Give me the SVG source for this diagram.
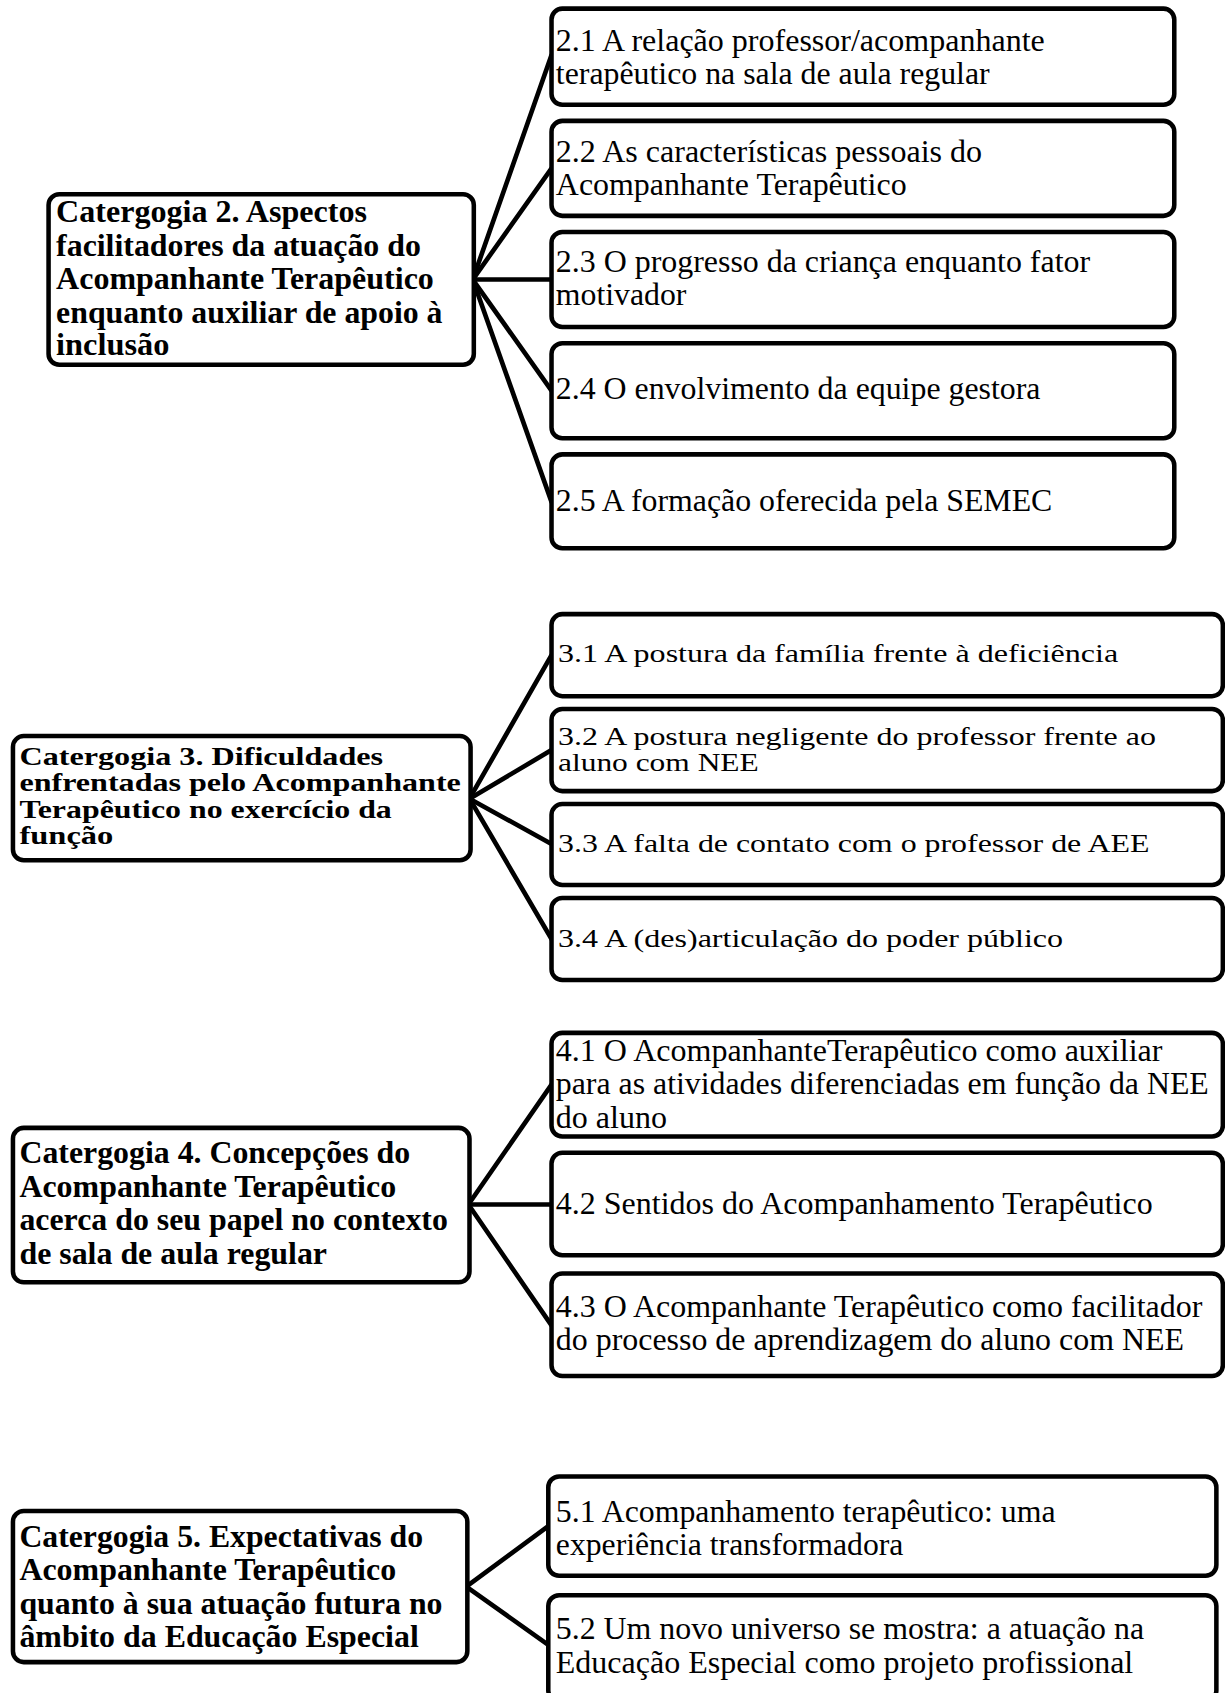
<svg xmlns="http://www.w3.org/2000/svg" width="1225" height="1693" viewBox="0 0 1225 1693">
<style>
.box{fill:#fff;stroke:#000;stroke-width:4.2}
.ln{stroke:#000;stroke-width:4.3;fill:none;stroke-linecap:round}
.t{font-family:'Liberation Serif','Times New Roman',serif;font-size:29.5px;fill:#000}
.b{font-weight:bold}
.s{font-size:23px}
</style>
<rect width="1225" height="1693" fill="#fff"/>
<g transform="scale(1.0793)">
<g id="connectors">
<line class="ln" x1="438" y1="259" x2="511" y2="51"/>
<line class="ln" x1="438" y1="259" x2="511" y2="156"/>
<line class="ln" x1="438" y1="259" x2="511" y2="259"/>
<line class="ln" x1="438" y1="259" x2="511" y2="362"/>
<line class="ln" x1="438" y1="259" x2="511" y2="465"/>
<line class="ln" x1="435" y1="740" x2="511" y2="607"/>
<line class="ln" x1="435" y1="740" x2="511" y2="695"/>
<line class="ln" x1="435" y1="740" x2="511" y2="782"/>
<line class="ln" x1="435" y1="740" x2="511" y2="870"/>
<line class="ln" x1="434" y1="1116" x2="511" y2="1005"/>
<line class="ln" x1="434" y1="1116" x2="511" y2="1116"/>
<line class="ln" x1="434" y1="1116" x2="511" y2="1228"/>
<line class="ln" x1="432" y1="1470" x2="508" y2="1414"/>
<line class="ln" x1="432" y1="1470" x2="508" y2="1524"/>
</g>

<g id="cat2">
<rect class="box" x="45" y="180" width="394" height="158" rx="10"/>
<text class="t b" x="52" y="206" textLength="288" lengthAdjust="spacingAndGlyphs">Catergogia 2. Aspectos</text>
<text class="t b" x="52" y="237" textLength="338" lengthAdjust="spacingAndGlyphs">facilitadores da atuação do</text>
<text class="t b" x="52" y="268" textLength="350" lengthAdjust="spacingAndGlyphs">Acompanhante Terapêutico</text>
<text class="t b" x="52" y="299" textLength="358" lengthAdjust="spacingAndGlyphs">enquanto auxiliar de apoio à</text>
<text class="t b" x="52" y="329" textLength="105" lengthAdjust="spacingAndGlyphs">inclusão</text>
</g>
<g id="n2_1">
<rect class="box" x="511" y="8" width="577" height="89" rx="10"/>
<text class="t" x="515" y="47" textLength="453" lengthAdjust="spacingAndGlyphs">2.1 A relação professor/acompanhante</text>
<text class="t" x="515" y="78" textLength="402" lengthAdjust="spacingAndGlyphs">terapêutico na sala de aula regular</text>
</g>
<g id="n2_2">
<rect class="box" x="511" y="112" width="577" height="88" rx="10"/>
<text class="t" x="515" y="150" textLength="395" lengthAdjust="spacingAndGlyphs">2.2 As características pessoais do</text>
<text class="t" x="515" y="181" textLength="325" lengthAdjust="spacingAndGlyphs">Acompanhante Terapêutico</text>
</g>
<g id="n2_3">
<rect class="box" x="511" y="215" width="577" height="88" rx="10"/>
<text class="t" x="515" y="252" textLength="495" lengthAdjust="spacingAndGlyphs">2.3 O progresso da criança enquanto fator</text>
<text class="t" x="515" y="283" textLength="121" lengthAdjust="spacingAndGlyphs">motivador</text>
</g>
<g id="n2_4">
<rect class="box" x="511" y="318" width="577" height="88" rx="10"/>
<text class="t" x="515" y="370" textLength="449" lengthAdjust="spacingAndGlyphs">2.4 O envolvimento da equipe gestora</text>
</g>
<g id="n2_5">
<rect class="box" x="511" y="421" width="577" height="87" rx="10"/>
<text class="t" x="515" y="473" textLength="460" lengthAdjust="spacingAndGlyphs">2.5 A formação oferecida pela SEMEC</text>
</g>

<g id="cat3">
<rect class="box" x="12" y="682" width="424" height="115" rx="10"/>
<text class="t b s" x="18" y="709" textLength="337" lengthAdjust="spacingAndGlyphs">Catergogia 3. Dificuldades</text>
<text class="t b s" x="18" y="733" textLength="409" lengthAdjust="spacingAndGlyphs">enfrentadas pelo Acompanhante</text>
<text class="t b s" x="18" y="758" textLength="345" lengthAdjust="spacingAndGlyphs">Terapêutico no exercício da</text>
<text class="t b s" x="18" y="782" textLength="87" lengthAdjust="spacingAndGlyphs">função</text>
</g>
<g id="n3_1">
<rect class="box" x="511" y="569" width="622" height="76" rx="10"/>
<text class="t s" x="517" y="613" textLength="519" lengthAdjust="spacingAndGlyphs">3.1 A postura da família frente à deficiência</text>
</g>
<g id="n3_2">
<rect class="box" x="511" y="657" width="622" height="76" rx="10"/>
<text class="t s" x="517" y="690" textLength="554" lengthAdjust="spacingAndGlyphs">3.2 A postura negligente do professor frente ao</text>
<text class="t s" x="517" y="714" textLength="186" lengthAdjust="spacingAndGlyphs">aluno com NEE</text>
</g>
<g id="n3_3">
<rect class="box" x="511" y="745" width="622" height="75" rx="10"/>
<text class="t s" x="517" y="789" textLength="548" lengthAdjust="spacingAndGlyphs">3.3 A falta de contato com o professor de AEE</text>
</g>
<g id="n3_4">
<rect class="box" x="511" y="832" width="622" height="76" rx="10"/>
<text class="t s" x="517" y="877" textLength="468" lengthAdjust="spacingAndGlyphs">3.4 A (des)articulação do poder público</text>
</g>

<g id="cat4">
<rect class="box" x="12" y="1045" width="423" height="143" rx="10"/>
<text class="t b" x="18" y="1078" textLength="362" lengthAdjust="spacingAndGlyphs">Catergogia 4. Concepções do</text>
<text class="t b" x="18" y="1109" textLength="349" lengthAdjust="spacingAndGlyphs">Acompanhante Terapêutico</text>
<text class="t b" x="18" y="1140" textLength="397" lengthAdjust="spacingAndGlyphs">acerca do seu papel no contexto</text>
<text class="t b" x="18" y="1171" textLength="285" lengthAdjust="spacingAndGlyphs">de sala de aula regular</text>
</g>
<g id="n4_1">
<rect class="box" x="511" y="957" width="622" height="96" rx="10"/>
<text class="t" x="515" y="983" textLength="562" lengthAdjust="spacingAndGlyphs">4.1 O AcompanhanteTerapêutico como auxiliar</text>
<text class="t" x="515" y="1014" textLength="605" lengthAdjust="spacingAndGlyphs">para as atividades diferenciadas em função da NEE</text>
<text class="t" x="515" y="1045" textLength="103" lengthAdjust="spacingAndGlyphs">do aluno</text>
</g>
<g id="n4_2">
<rect class="box" x="511" y="1068" width="622" height="95" rx="10"/>
<text class="t" x="515" y="1125" textLength="553" lengthAdjust="spacingAndGlyphs">4.2 Sentidos do Acompanhamento Terapêutico</text>
</g>
<g id="n4_3">
<rect class="box" x="511" y="1180" width="622" height="95" rx="10"/>
<text class="t" x="515" y="1220" textLength="599" lengthAdjust="spacingAndGlyphs">4.3 O Acompanhante Terapêutico como facilitador</text>
<text class="t" x="515" y="1251" textLength="582" lengthAdjust="spacingAndGlyphs">do processo de aprendizagem do aluno com NEE</text>
</g>

<g id="cat5">
<rect class="box" x="12" y="1400" width="421" height="140" rx="10"/>
<text class="t b" x="18" y="1433" textLength="374" lengthAdjust="spacingAndGlyphs">Catergogia 5. Expectativas do</text>
<text class="t b" x="18" y="1464" textLength="349" lengthAdjust="spacingAndGlyphs">Acompanhante Terapêutico</text>
<text class="t b" x="18" y="1495" textLength="392" lengthAdjust="spacingAndGlyphs">quanto à sua atuação futura no</text>
<text class="t b" x="18" y="1526" textLength="370" lengthAdjust="spacingAndGlyphs">âmbito da Educação Especial</text>
</g>
<g id="n5_1">
<rect class="box" x="508" y="1368" width="619" height="92" rx="10"/>
<text class="t" x="515" y="1410" textLength="463" lengthAdjust="spacingAndGlyphs">5.1 Acompanhamento terapêutico: uma</text>
<text class="t" x="515" y="1441" textLength="322" lengthAdjust="spacingAndGlyphs">experiência transformadora</text>
</g>
<g id="n5_2">
<rect class="box" x="508" y="1478" width="619" height="98" rx="10"/>
<text class="t" x="515" y="1519" textLength="545" lengthAdjust="spacingAndGlyphs">5.2 Um novo universo se mostra: a atuação na</text>
<text class="t" x="515" y="1550" textLength="535" lengthAdjust="spacingAndGlyphs">Educação Especial como projeto profissional</text>
</g>
</g>
</svg>
